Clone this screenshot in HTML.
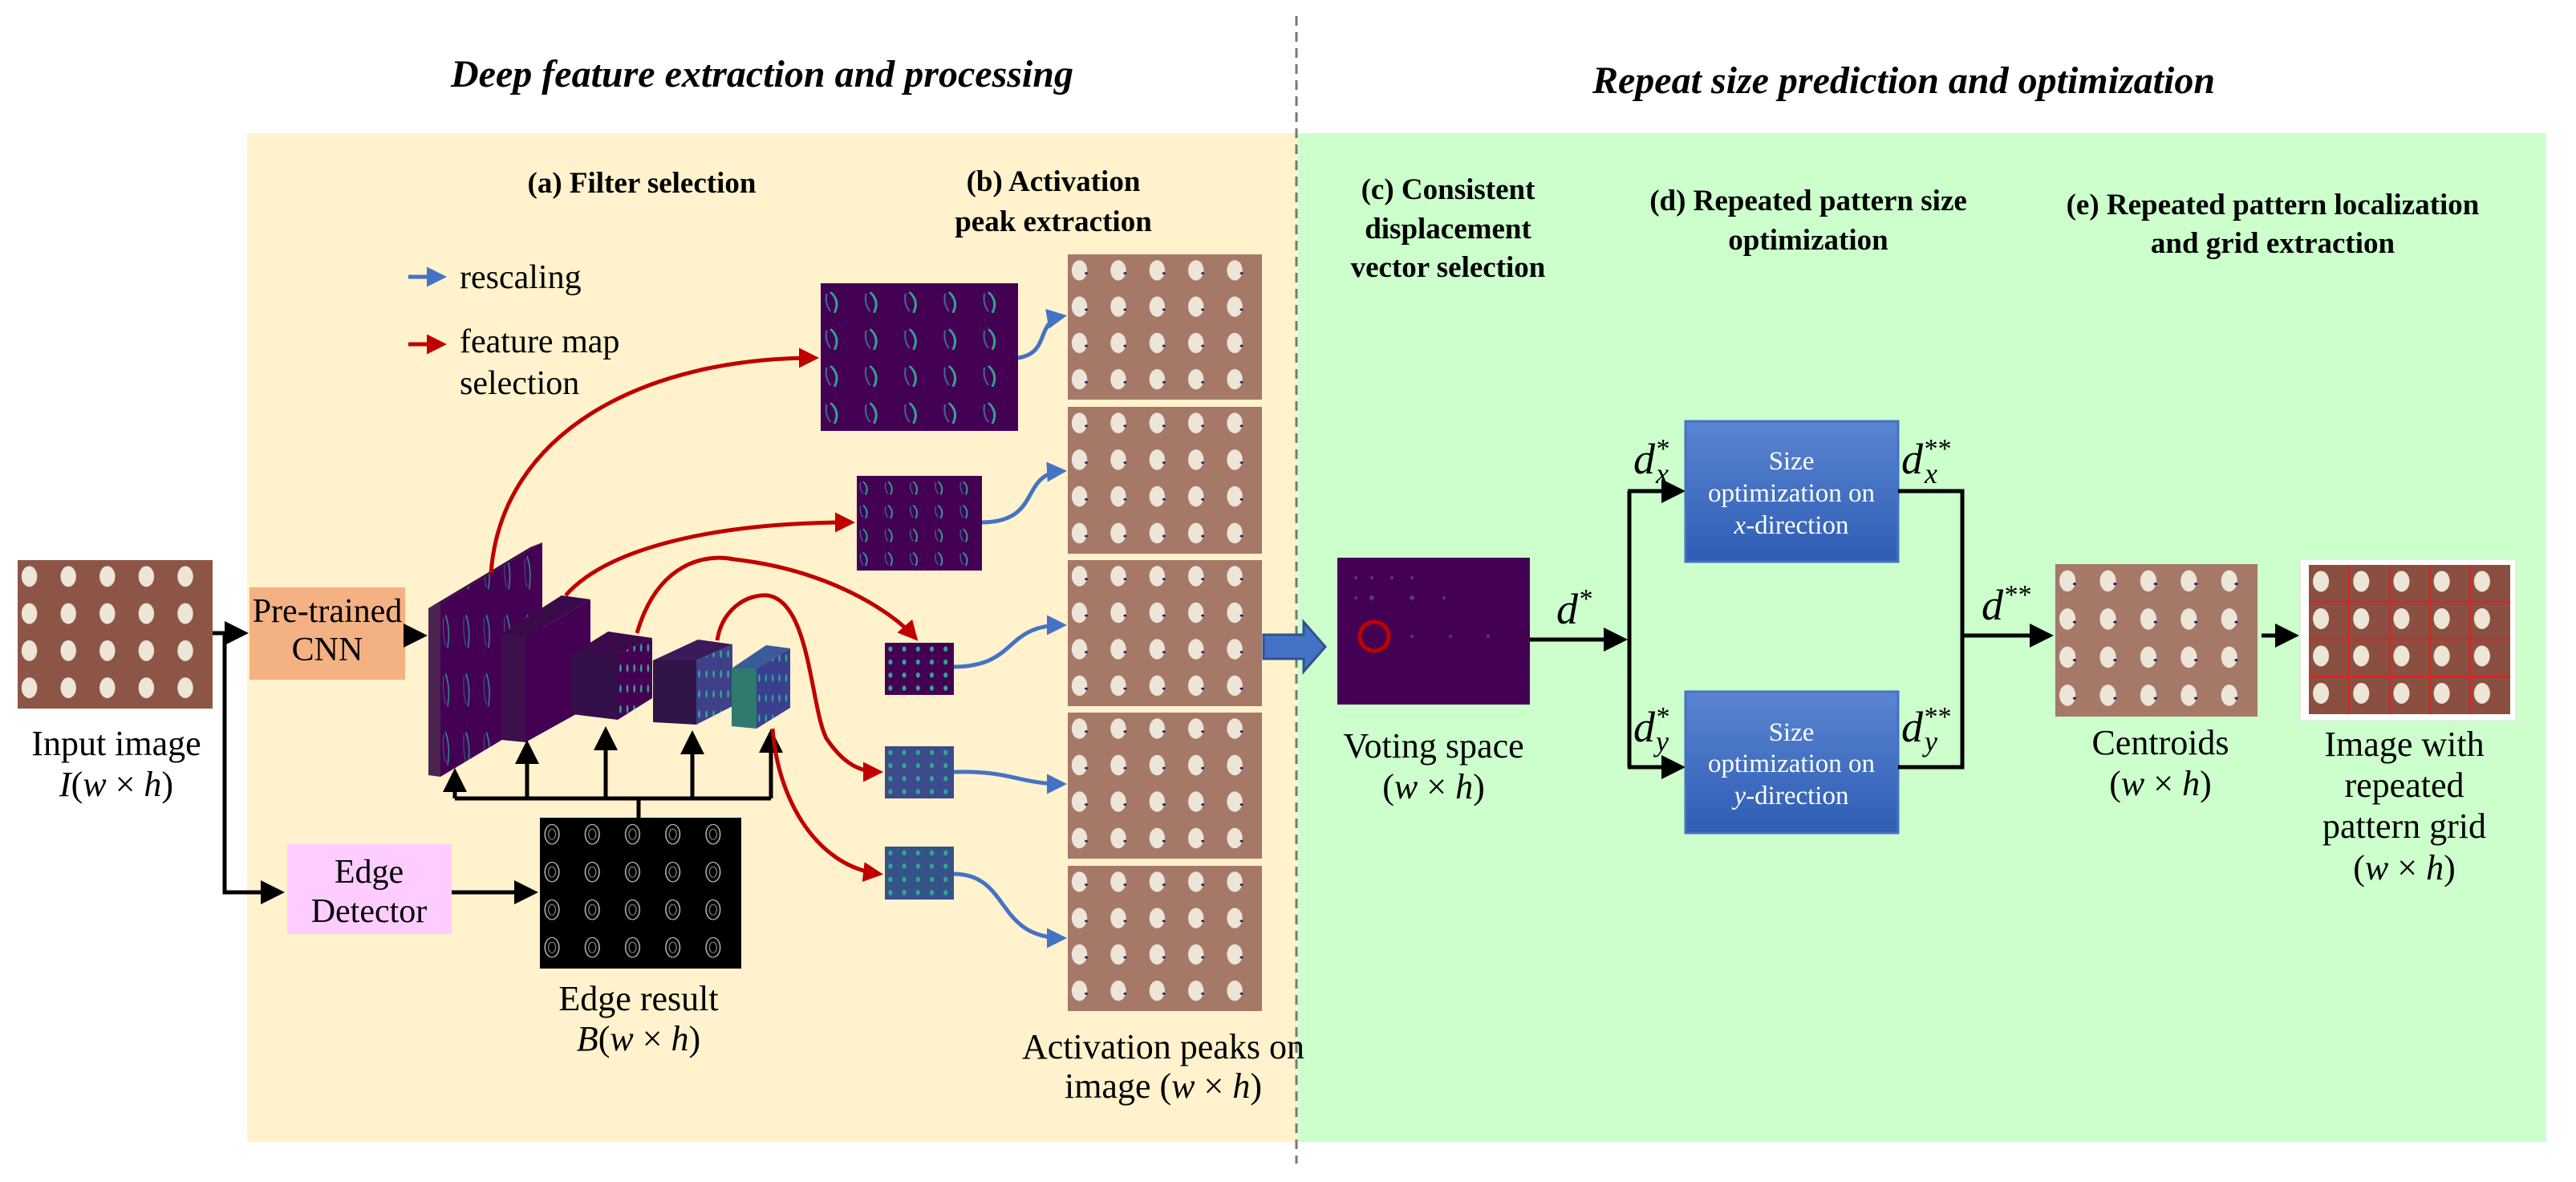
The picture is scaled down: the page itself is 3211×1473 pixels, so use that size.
<!DOCTYPE html>
<html><head><meta charset="utf-8"><style>
html,body{margin:0;padding:0;background:#fff;font-family:"Liberation Serif","Times New Roman","DejaVu Serif",serif;}
svg{display:block;}
svg text{font-family:"Liberation Serif","Times New Roman","DejaVu Serif",serif;fill:#000;}
.t{font-size:44px;text-anchor:middle;}
.h{font-size:37px;font-weight:bold;text-anchor:middle;}
.ti{font-size:48px;font-weight:bold;font-style:italic;text-anchor:middle;}
.bx{font-size:33px;text-anchor:middle;}
.m{font-size:54px;font-style:italic;}
</style></head><body>
<svg width="3211" height="1473" viewBox="0 0 3211 1473" xmlns="http://www.w3.org/2000/svg" font-family="Liberation Serif, Times New Roman, DejaVu Serif, serif">
<defs>
<pattern id="blob" patternUnits="objectBoundingBox" patternContentUnits="objectBoundingBox" width="0.2" height="0.25">
<ellipse cx="0.06" cy="0.11" rx="0.04" ry="0.07" fill="#ece5d8"/>
</pattern>
<pattern id="blobd" patternUnits="objectBoundingBox" patternContentUnits="objectBoundingBox" width="0.2" height="0.25">
<ellipse cx="0.06" cy="0.11" rx="0.04" ry="0.07" fill="#ece5d8"/>
<circle cx="0.095" cy="0.13" r="0.008" fill="#1a1a6e"/>
</pattern>
<pattern id="edge" patternUnits="objectBoundingBox" patternContentUnits="objectBoundingBox" width="0.2" height="0.25">
<ellipse cx="0.06" cy="0.11" rx="0.035" ry="0.065" fill="none" stroke="#bbb" stroke-width="0.006"/>
<ellipse cx="0.06" cy="0.11" rx="0.018" ry="0.035" fill="none" stroke="#888" stroke-width="0.005"/>
</pattern>
<pattern id="fm" patternUnits="objectBoundingBox" patternContentUnits="objectBoundingBox" width="0.2" height="0.25">
<path d="M0.05 0.06 Q0.1 0.12 0.07 0.2" fill="none" stroke="#2fa88e" stroke-width="0.012"/>
<path d="M0.03 0.07 Q0.02 0.14 0.05 0.19" fill="none" stroke="#3a6f9a" stroke-width="0.008"/>
</pattern>
<pattern id="dots" patternUnits="objectBoundingBox" patternContentUnits="objectBoundingBox" width="0.2" height="0.25">
<ellipse cx="0.08" cy="0.12" rx="0.03" ry="0.05" fill="#2fa88e"/>
</pattern>
<linearGradient id="bg" x1="0" y1="0" x2="0" y2="1"><stop offset="0" stop-color="#5b85d1"/><stop offset="1" stop-color="#2e5db4"/></linearGradient>
<marker id="ak" markerWidth="6" markerHeight="6" refX="5" refY="3" orient="auto" markerUnits="strokeWidth"><path d="M0,0 L6,3 L0,6 z" fill="#000"/></marker>
<marker id="ar" markerWidth="5" markerHeight="5" refX="4" refY="2.5" orient="auto" markerUnits="strokeWidth"><path d="M0,0 L5,2.5 L0,5 z" fill="#c00000"/></marker>
<marker id="ab" markerWidth="5" markerHeight="5" refX="4" refY="2.5" orient="auto" markerUnits="strokeWidth"><path d="M0,0 L5,2.5 L0,5 z" fill="#4472c4"/></marker>
</defs>

<rect x="308" y="166" width="1310" height="1257" fill="#fff2cc"/>
<rect x="1618" y="166" width="1556" height="1257" fill="#ccffcc"/>
<line x1="1616" y1="20" x2="1616" y2="1450" stroke="#777" stroke-width="3" stroke-dasharray="12,8"/>

<text class="ti" x="950" y="108">Deep feature extraction and processing</text>
<text class="ti" x="2373" y="116">Repeat size prediction and optimization</text>

<text class="h" x="800" y="240">(a) Filter selection</text>
<text class="h" x="1313" y="238">(b) Activation</text>
<text class="h" x="1313" y="288">peak extraction</text>
<text class="h" x="1805" y="248">(c) Consistent</text>
<text class="h" x="1805" y="297">displacement</text>
<text class="h" x="1805" y="345">vector selection</text>
<text class="h" x="2254" y="262">(d) Repeated pattern size</text>
<text class="h" x="2254" y="311">optimization</text>
<text class="h" x="2833" y="267">(e) Repeated pattern localization</text>
<text class="h" x="2833" y="315">and grid extraction</text>

<line x1="509" y1="345" x2="552" y2="345" stroke="#4472c4" stroke-width="5" marker-end="url(#ab)"/>
<text x="573" y="359" style="font-size:42px">rescaling</text>
<line x1="509" y1="429" x2="552" y2="429" stroke="#c00000" stroke-width="5" marker-end="url(#ar)"/>
<text x="573" y="439" style="font-size:42px">feature map</text>
<text x="573" y="491" style="font-size:42px">selection</text>

<rect x="22" y="698" width="243" height="185" fill="#8d5545"/>
<rect x="22" y="698" width="243" height="185" fill="url(#blob)"/>
<text class="t" x="145" y="941">Input image</text>
<text class="t" x="145" y="992"><tspan font-style="italic">I</tspan>(<tspan font-style="italic">w</tspan> × <tspan font-style="italic">h</tspan>)</text>

<polyline points="265,789 280,789" fill="none" stroke="#000" stroke-width="5"/>
<line x1="280" y1="789" x2="305" y2="789" stroke="#000" stroke-width="5" marker-end="url(#ak)"/>
<polyline points="280,789 280,1112 350,1112" fill="none" stroke="#000" stroke-width="5" marker-end="url(#ak)"/>

<rect x="311" y="732" width="194" height="115" fill="#f4b183"/>
<text class="t" x="408" y="775" style="font-size:42px">Pre-trained</text>
<text class="t" x="408" y="823" style="font-size:42px">CNN</text>
<line x1="505" y1="792" x2="528" y2="792" stroke="#000" stroke-width="5" marker-end="url(#ak)"/>

<rect x="358" y="1052" width="205" height="112" fill="#ffccff"/>
<text class="t" x="460" y="1100" style="font-size:42px">Edge</text>
<text class="t" x="460" y="1149" style="font-size:42px">Detector</text>
<line x1="563" y1="1112" x2="666" y2="1112" stroke="#000" stroke-width="5" marker-end="url(#ak)"/>

<rect x="673" y="1019" width="251" height="188" fill="#000"/>
<rect x="673" y="1019" width="251" height="188" fill="url(#edge)"/>
<text class="t" x="796" y="1259">Edge result</text>
<text class="t" x="796" y="1309"><tspan font-style="italic">B</tspan>(<tspan font-style="italic">w</tspan> × <tspan font-style="italic">h</tspan>)</text>

<polygon points="534,758 549,752 549,968 534,966" fill="#4b2350"/>
<polygon points="534,758 661,682 676,676 549,752" fill="#3a0a4a"/>
<polygon points="549,752 676,676 676,892 549,968" fill="#440154"/>
<polygon points="549,752 676,676 676,892 549,968" fill="url(#fm)" opacity="0.8"/>
<polygon points="625,790 700,742 736,747 655,795" fill="#3a0a4a"/>
<polygon points="625,790 655,795 655,925 625,922" fill="#3d0f4c"/>
<polygon points="655,795 736,747 736,880 655,925" fill="#440154"/>
<polygon points="713,815 758,787 813,795 770,815" fill="#3a0a4a"/>
<polygon points="713,815 770,815 770,897 713,890" fill="#33104a"/>
<polygon points="770,815 813,795 813,870 770,897" fill="#440154"/>
<polygon points="770,815 813,795 813,870 770,897" fill="url(#dots)"/>
<polygon points="814,823 870,797 913,803 868,823" fill="#3b1a5c"/>
<polygon points="814,823 868,823 868,903 814,900" fill="#2f1548"/>
<polygon points="868,823 913,803 913,880 868,903" fill="#3f3f8a"/>
<polygon points="868,823 913,803 913,880 868,903" fill="url(#dots)"/>
<polygon points="912,833 955,804 985,808 943,833" fill="#3b5a9a"/>
<polygon points="912,833 943,833 943,908 912,905" fill="#2e7a6e"/>
<polygon points="943,833 985,808 985,882 943,908" fill="#3a3f8f"/>
<polygon points="943,833 985,808 985,882 943,908" fill="url(#dots)"/>

<line x1="796" y1="1019" x2="796" y2="995" stroke="#000" stroke-width="5"/>
<line x1="567" y1="995" x2="961" y2="995" stroke="#000" stroke-width="5"/>
<g stroke="#000" stroke-width="5" marker-end="url(#ak)">
<line x1="567" y1="995" x2="567" y2="962"/>
<line x1="657" y1="995" x2="657" y2="927"/>
<line x1="755" y1="995" x2="755" y2="910"/>
<line x1="863" y1="995" x2="863" y2="915"/>
<line x1="961" y1="995" x2="961" y2="913"/>
</g>

<rect x="1023" y="353" width="246" height="184" fill="#440154"/><rect x="1023" y="353" width="246" height="184" fill="url(#fm)"/>
<rect x="1068" y="593" width="156" height="118" fill="#440154"/><rect x="1068" y="593" width="156" height="118" fill="url(#fm)"/>
<rect x="1103" y="801" width="86" height="65" fill="#440154"/><rect x="1103" y="801" width="86" height="65" fill="url(#dots)"/>
<rect x="1103" y="930" width="86" height="65" fill="#3b4b8c"/><rect x="1103" y="930" width="86" height="65" fill="url(#dots)"/>
<rect x="1103" y="1055" width="86" height="66" fill="#35538a"/><rect x="1103" y="1055" width="86" height="66" fill="url(#dots)"/>

<g fill="none" stroke="#c00000" stroke-width="5" marker-end="url(#ar)">
<path d="M612 714 C625 540 800 446 1016 446"/>
<path d="M705 742 C760 680 900 651 1061 651"/>
<path d="M794 789 C820 700 880 690 915 697 C1030 710 1110 760 1141 795"/>
<path d="M894 798 C900 760 930 740 957 742 C1010 750 1010 880 1030 920 C1050 950 1070 962 1096 962"/>
<path d="M963 908 C970 1000 1020 1080 1096 1089"/>
</g>
<g fill="none" stroke="#4472c4" stroke-width="5" marker-end="url(#ab)">
<path d="M1269 446 C1310 440 1290 400 1325 394"/>
<path d="M1224 651 C1300 650 1270 590 1325 587"/>
<path d="M1189 831 C1270 830 1250 779 1325 779"/>
<path d="M1189 962 C1260 960 1270 977 1325 977"/>
<path d="M1189 1089 C1260 1090 1240 1169 1325 1169"/>
</g>

<g>
<rect x="1331" y="317" width="242" height="181" fill="#a67868"/><rect x="1331" y="317" width="242" height="181" fill="url(#blobd)"/>
<rect x="1331" y="507" width="242" height="183" fill="#a67868"/><rect x="1331" y="507" width="242" height="183" fill="url(#blobd)"/>
<rect x="1331" y="698" width="242" height="182" fill="#a67868"/><rect x="1331" y="698" width="242" height="182" fill="url(#blobd)"/>
<rect x="1331" y="888" width="242" height="182" fill="#a67868"/><rect x="1331" y="888" width="242" height="182" fill="url(#blobd)"/>
<rect x="1331" y="1079" width="242" height="181" fill="#a67868"/><rect x="1331" y="1079" width="242" height="181" fill="url(#blobd)"/>
</g>
<text class="t" x="1450" y="1319">Activation peaks on</text>
<text class="t" x="1450" y="1368">image (<tspan font-style="italic">w</tspan> × <tspan font-style="italic">h</tspan>)</text>

<polygon points="1575,791 1625,791 1625,775 1652,806 1625,837 1625,821 1575,821" fill="#4472c4" stroke="#2f528f" stroke-width="3"/>

<rect x="1667" y="695" width="240" height="183" fill="#440154"/>
<g fill="#4b5a9a" opacity="0.7">
<circle cx="1690" cy="720" r="2"/><circle cx="1710" cy="720" r="2"/><circle cx="1735" cy="720" r="2"/><circle cx="1760" cy="720" r="2"/>
<circle cx="1690" cy="745" r="2"/><circle cx="1710" cy="745" r="3"/><circle cx="1760" cy="745" r="3"/><circle cx="1800" cy="745" r="2"/>
<circle cx="1760" cy="793" r="2"/><circle cx="1808" cy="793" r="2"/><circle cx="1855" cy="793" r="2"/>
</g>
<circle cx="1713" cy="793" r="18" fill="none" stroke="#c00000" stroke-width="5"/>
<text class="t" x="1787" y="944">Voting space</text>
<text class="t" x="1787" y="995">(<tspan font-style="italic">w</tspan> × <tspan font-style="italic">h</tspan>)</text>

<line x1="1907" y1="797" x2="2024" y2="797" stroke="#000" stroke-width="5" marker-end="url(#ak)"/>
<text class="m" x="1940" y="777">d<tspan font-size="34" dy="-20">*</tspan></text>
<polyline points="2031,612 2031,956" fill="none" stroke="#000" stroke-width="5"/>
<line x1="2029" y1="612" x2="2096" y2="612" stroke="#000" stroke-width="5" marker-end="url(#ak)"/>
<line x1="2029" y1="956" x2="2096" y2="956" stroke="#000" stroke-width="5" marker-end="url(#ak)"/>

<rect x="2101" y="525" width="265" height="175" fill="url(#bg)" stroke="#4472c4" stroke-width="3"/>
<text class="bx" x="2233" y="585" fill="#fff" style="fill:#fff">Size</text>
<text class="bx" x="2233" y="625" style="fill:#fff">optimization on</text>
<text class="bx" x="2233" y="665" style="fill:#fff"><tspan font-style="italic">x</tspan>-direction</text>
<rect x="2101" y="862" width="265" height="176" fill="url(#bg)" stroke="#4472c4" stroke-width="3"/>
<text class="bx" x="2233" y="923" style="fill:#fff">Size</text>
<text class="bx" x="2233" y="962" style="fill:#fff">optimization on</text>
<text class="bx" x="2233" y="1002" style="fill:#fff"><tspan font-style="italic">y</tspan>-direction</text>

<text class="m" x="2036" y="590">d<tspan font-size="34" dy="-20">*</tspan><tspan font-size="36" dx="-16" dy="32">x</tspan></text>
<text class="m" x="2036" y="924">d<tspan font-size="34" dy="-20">*</tspan><tspan font-size="36" dx="-16" dy="32">y</tspan></text>
<text class="m" x="2370" y="590">d<tspan font-size="34" dy="-20">**</tspan><tspan font-size="36" dx="-32" dy="32">x</tspan></text>
<text class="m" x="2370" y="924">d<tspan font-size="34" dy="-20">**</tspan><tspan font-size="36" dx="-32" dy="32">y</tspan></text>

<polyline points="2366,612 2446,612 2446,956 2366,956" fill="none" stroke="#000" stroke-width="5"/>
<line x1="2446" y1="792" x2="2555" y2="792" stroke="#000" stroke-width="5" marker-end="url(#ak)"/>
<text class="m" x="2470" y="772">d<tspan font-size="34" dy="-20">**</tspan></text>

<rect x="2562" y="703" width="252" height="190" fill="#a67868"/><rect x="2562" y="703" width="252" height="190" fill="url(#blobd)"/>
<text class="t" x="2693" y="940">Centroids</text>
<text class="t" x="2693" y="991">(<tspan font-style="italic">w</tspan> × <tspan font-style="italic">h</tspan>)</text>
<line x1="2819" y1="792" x2="2861" y2="792" stroke="#000" stroke-width="5" marker-end="url(#ak)"/>

<rect x="2867" y="697" width="269" height="201" fill="#fff" stroke="#ddd" stroke-width="1"/>
<rect x="2878" y="704" width="251" height="186" fill="#8a4f40"/><rect x="2878" y="704" width="251" height="186" fill="url(#blob)"/>
<g stroke="#e02020" stroke-width="2">
<line x1="2928" y1="704" x2="2928" y2="890"/><line x1="2979" y1="704" x2="2979" y2="890"/><line x1="3029" y1="704" x2="3029" y2="890"/><line x1="3079" y1="704" x2="3079" y2="890"/>
<line x1="2878" y1="750" x2="3129" y2="750"/><line x1="2878" y1="797" x2="3129" y2="797"/><line x1="2878" y1="843" x2="3129" y2="843"/>
</g>
<text class="t" x="2997" y="942">Image with</text>
<text class="t" x="2997" y="993">repeated</text>
<text class="t" x="2997" y="1044">pattern grid</text>
<text class="t" x="2997" y="1096">(<tspan font-style="italic">w</tspan> × <tspan font-style="italic">h</tspan>)</text>
</svg>
</body></html>
